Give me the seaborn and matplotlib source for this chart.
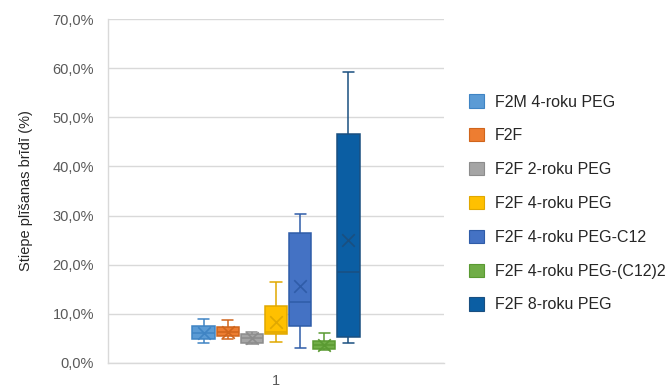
import numpy as np
import pandas as pd
import matplotlib
matplotlib.use("Agg")
import matplotlib.pyplot as plt
from matplotlib.patches import Patch
from matplotlib.ticker import FuncFormatter
import seaborn as sns

# ---- data (values in %) ----
series = ["F2M 4-roku PEG", "F2F", "F2F 2-roku PEG", "F2F 4-roku PEG",
          "F2F 4-roku PEG-C12", "F2F 4-roku PEG-(C12)2", "F2F 8-roku PEG"]
whisker_low = [4.1, 4.9, 3.9, 4.3, 3.0, 2.6, 4.1]
q1 = [4.8, 5.4, 4.0, 5.9, 7.55, 2.8, 5.2]
median = [6.2, 6.4, 5.0, 6.4, 12.4, 3.7, 18.6]
q3 = [7.6, 7.3, 5.9, 11.7, 26.4, 4.4, 46.5]
whisker_high = [9.0, 8.8, 6.3, 16.5, 30.3, 6.1, 59.2]
means = [6.2, 6.4, 5.0, 8.4, 15.6, 3.7, 25.1]
category = "1"
y_ticks = [0, 10, 20, 30, 40, 50, 60, 70]

fill_colors = ["#5B9BD5", "#ED7D31", "#A5A5A5", "#FFC000", "#4472C4", "#70AD47", "#0B5EA3"]
edge_colors = ["#3F84C4", "#D0651C", "#8C8C8C", "#E0A800", "#2F5CA8", "#5A9A32", "#1A4F80"]

# five-number table per series
rows = []
for i, s in enumerate(series):
    for v in (whisker_low[i], q1[i], median[i], q3[i], whisker_high[i]):
        rows.append({"group": category, "series": s, "value": v})
df = pd.DataFrame(rows)
mean_df = pd.DataFrame({"group": category, "series": series, "value": means})

sns.set_theme(style="white")
plt.rcParams["font.family"] = ["Liberation Sans", "DejaVu Sans"]

fig = plt.figure(figsize=(6.71, 3.92), dpi=100)
ax = fig.add_axes([108 / 671, 29 / 392, 336 / 671, 344 / 392])

for i, s in enumerate(series):
    sub = df[df["series"] == s]
    sns.boxplot(data=sub, x="group", y="value", hue="series", hue_order=series,
                palette={k: fill_colors[j] for j, k in enumerate(series)},
                saturation=1, linecolor=edge_colors[i], linewidth=1.1,
                width=0.8, gap=0.08, whis=(0, 100), dodge=True, legend=False,
                ax=ax, zorder=3)

sns.stripplot(data=mean_df, x="group", y="value", hue="series", hue_order=series,
              palette={k: edge_colors[j] for j, k in enumerate(series)},
              dodge=True, jitter=False, marker="x", size=9, linewidth=1.2,
              legend=False, ax=ax, zorder=5)

ax.set_xlim(-0.795, 0.795)
ax.set_ylim(0, 70)
ax.set_yticks(y_ticks)
ax.yaxis.set_major_formatter(FuncFormatter(lambda v, p: f"{v:.1f}%".replace(".", ",")))
ax.grid(axis="y", color="#D9D9D9", linewidth=1, zorder=0)
ax.set_axisbelow(True)
for sp in ["top", "right"]:
    ax.spines[sp].set_visible(False)
for sp in ["left", "bottom"]:
    ax.spines[sp].set_color("#D9D9D9")
    ax.spines[sp].set_linewidth(1)
ax.tick_params(axis="both", length=0, labelsize=10.5, labelcolor="#595959")
ax.tick_params(axis="y", pad=10)
ax.tick_params(axis="x", pad=8)
ax.set_xlabel("")
ax.set_ylabel("Stiepe plīšanas brīdī (%)", fontsize=10.5, color="#262626", labelpad=14)

handles = [Patch(facecolor=fill_colors[i], edgecolor=edge_colors[i], linewidth=0.8)
           for i in range(len(series))]
fig.legend(handles, series, loc="upper left", bbox_to_anchor=(463 / 671, 1 - 88 / 392),
           frameon=False, fontsize=11.5, labelcolor="#262626",
           handlelength=0.9, handleheight=0.9, handletextpad=0.7,
           labelspacing=1.17, borderaxespad=0)

fig.savefig("out.png", dpi=100)
